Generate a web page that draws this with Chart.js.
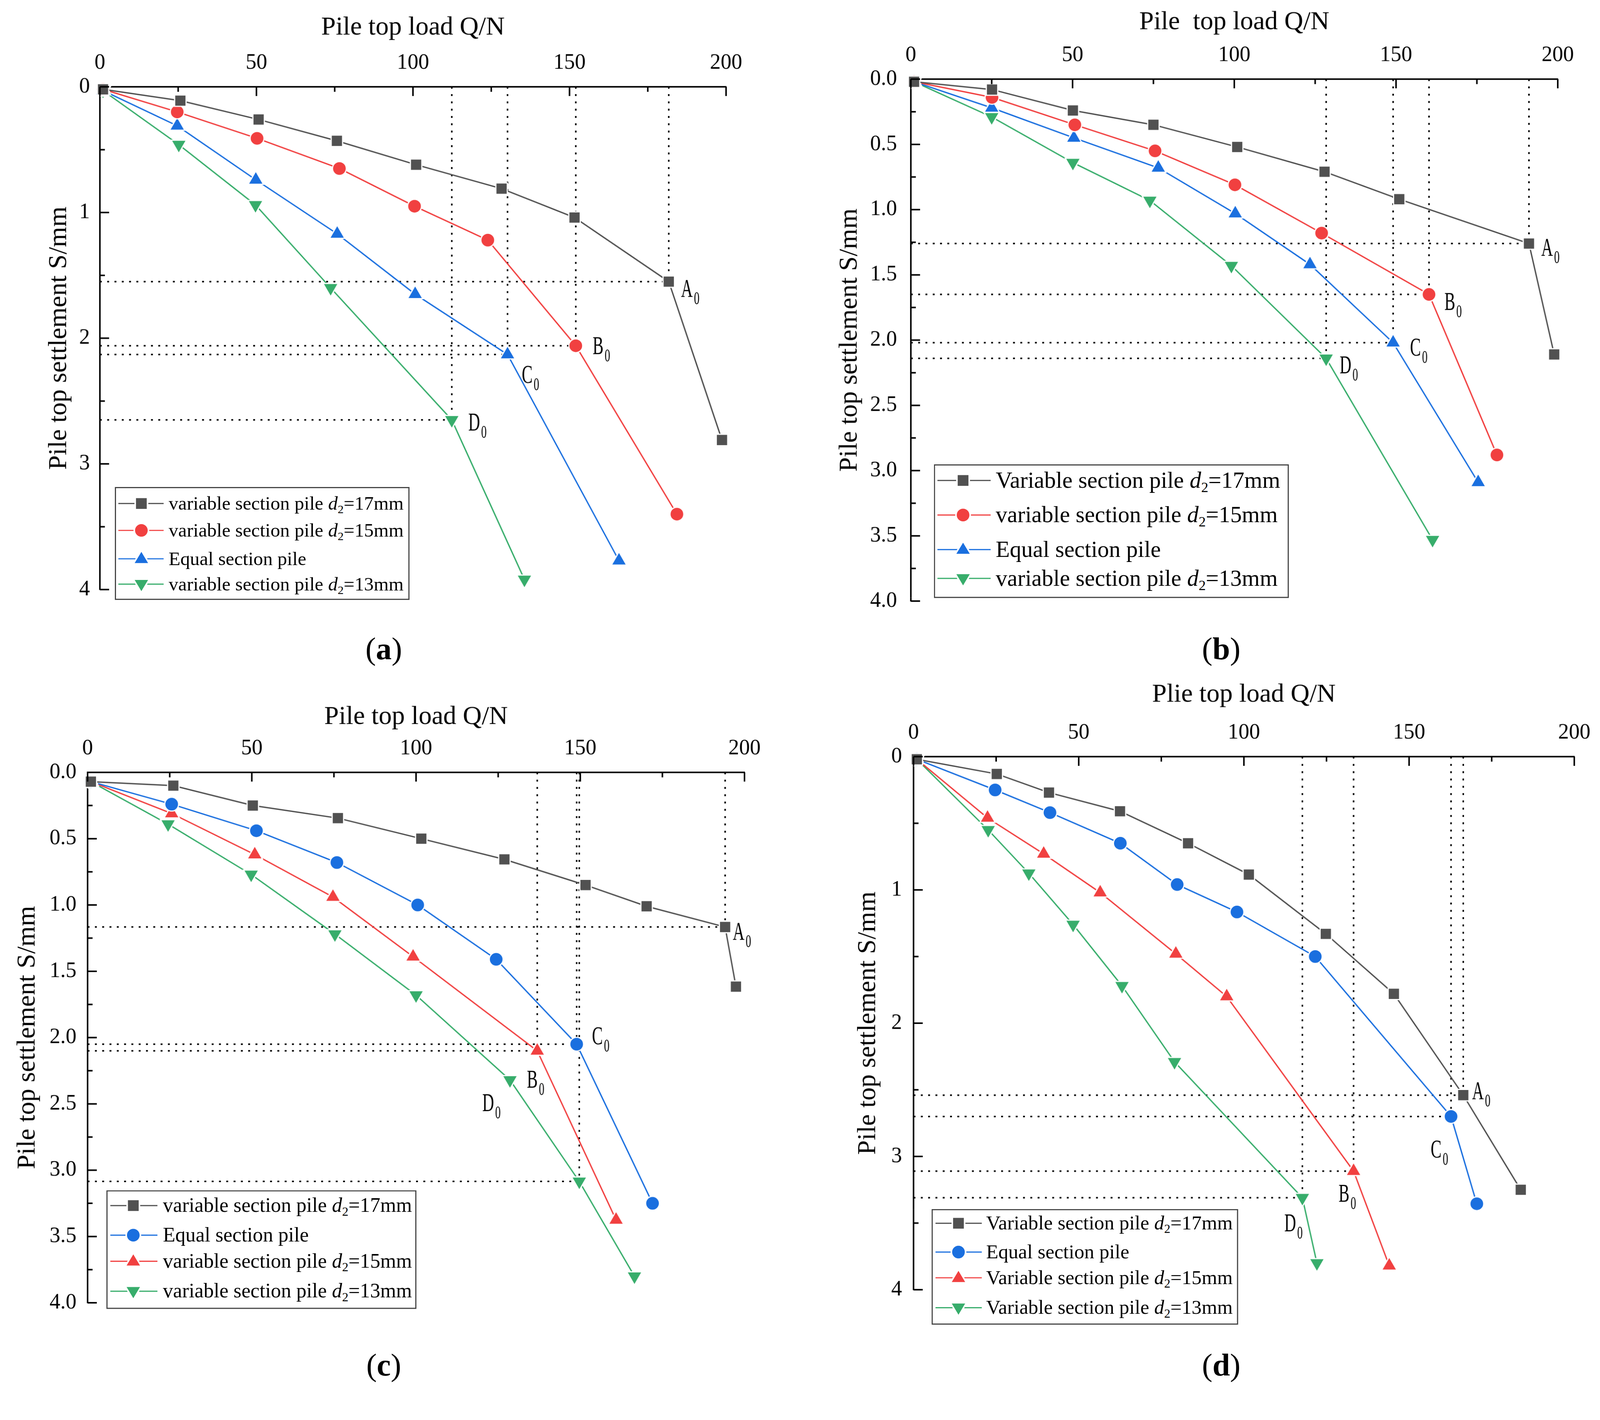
<!DOCTYPE html>
<html lang="en">
<head>
<meta charset="UTF-8">
<title>Pile top load - settlement curves</title>
<script src="https://cdn.jsdelivr.net/npm/chart.js"></script>
<style>
  html, body { margin:0; padding:0; background:#fff; overflow:hidden; }
  #page { position:absolute; left:0; top:0; width:4165px; height:3636px; transform-origin:0 0;
          font-family:"Liberation Serif","Times New Roman",serif; color:#000; }
  .legend { position:absolute; border:3px solid #444; background:#fff; box-sizing:border-box; }
  .legend .row { position:absolute; left:0; width:100%; height:0; }
  .legend .txt { position:absolute; top:0; transform:translateY(-52%); white-space:nowrap; line-height:1; }
  .legend sub { font-size:0.62em; vertical-align:-0.3em; line-height:0; }
  .tag { position:absolute; font-size:82px; transform:translate(-50%,-50%); white-space:nowrap; }
</style>
</head>
<body>
<div id="page"></div>
<script>
// ---- values ----
const xTickLabels = ['0', '50', '100', '150', '200'];
const yLabelsInt = ['0', '1', '2', '3', '4'];
const yLabelsDec = ['0.0', '0.5', '1.0', '1.5', '2.0', '2.5', '3.0', '3.5', '4.0'];

// (a)
const aLoad17 = [1, 25.7, 50.7, 75.7, 101, 128.3, 151.6, 181.7, 198.7];
const aSet17  = [0.02, 0.11, 0.26, 0.43, 0.62, 0.81, 1.04, 1.55, 2.81];
const aLoad15 = [1, 24.7, 50.2, 76.5, 100.5, 123.9, 152, 184.3];
const aSet15  = [0.02, 0.2, 0.41, 0.65, 0.95, 1.22, 2.06, 3.40];
const aLoadEq = [1, 24.7, 49.8, 75.8, 100.7, 130.2, 165.8];
const aSetEq  = [0.03, 0.31, 0.74, 1.17, 1.65, 2.13, 3.77];
const aLoad13 = [1, 25.2, 49.7, 73.7, 112.4, 135.6];
const aSet13  = [0.03, 0.46, 0.94, 1.60, 2.65, 3.92];

// (b)
const bLoad17 = [1, 25.1, 50.1, 75, 100.9, 127.9, 151, 191.1, 198.9];
const bSet17  = [0.02, 0.08, 0.24, 0.35, 0.52, 0.71, 0.92, 1.26, 2.11];
const bLoad15 = [1, 25.1, 50.7, 75.5, 100.2, 127, 160.2, 181.2];
const bSet15  = [0.02, 0.14, 0.35, 0.55, 0.81, 1.18, 1.65, 2.88];
const bLoadEq = [1, 25, 50.4, 76.5, 100.3, 123.4, 149.1, 175.4];
const bSetEq  = [0.02, 0.22, 0.45, 0.68, 1.03, 1.42, 2.02, 3.09];
const bLoad13 = [1, 25, 50.1, 73.9, 99.1, 128.4, 161.3];
const bSet13  = [0.02, 0.29, 0.64, 0.93, 1.43, 2.14, 3.53];

// (c)
const cLoad17 = [1, 26.1, 50.3, 76.2, 101.6, 126.9, 151.6, 170.2, 194.1, 197.4];
const cSet17  = [0.07, 0.1, 0.25, 0.345, 0.5, 0.656, 0.85, 1.01, 1.166, 1.616];
const cLoadEq = [1, 25.6, 51.4, 75.9, 100.5, 124.4, 148.9, 172];
const cSetEq  = [0.07, 0.24, 0.44, 0.68, 1.0, 1.41, 2.05, 3.25];
const cLoad15 = [1, 25.6, 50.9, 74.7, 99.1, 136.9, 160.9];
const cSet15  = [0.07, 0.31, 0.62, 0.94, 1.39, 2.1, 3.375];
const cLoad13 = [1, 24.5, 49.8, 75.3, 100, 128.6, 149.7, 166.5];
const cSet13  = [0.07, 0.39, 0.77, 1.22, 1.68, 2.32, 3.085, 3.80];

// (d)
const dLoad17 = [1, 25.2, 41, 62.5, 83.1, 101.5, 124.8, 145.4, 166.4, 183.8];
const dSet17  = [0.02, 0.13, 0.27, 0.41, 0.65, 0.885, 1.33, 1.78, 2.54, 3.25];
const dLoadEq = [1, 24.7, 41.3, 62.6, 79.8, 97.9, 121.6, 162.7, 170.5];
const dSetEq  = [0.02, 0.25, 0.42, 0.65, 0.96, 1.166, 1.50, 2.70, 3.355];
const dLoad15 = [1, 22.4, 39.4, 56.5, 79.4, 94.8, 133.2, 144];
const dSet15  = [0.02, 0.46, 0.73, 1.02, 1.48, 1.80, 3.11, 3.82];
const dLoad13 = [1, 22.6, 34.9, 48.3, 63.1, 79, 117.7, 122.1];
const dSet13  = [0.02, 0.55, 0.875, 1.26, 1.72, 2.29, 3.31, 3.80];

// ---- styles ----
const FONT = '"Liberation Serif", "Times New Roman", serif';
const GRAY = '#515151', RED = '#F14040', BLUE = '#1A6FDF', GREEN = '#37AD6B';
const SHAPES = {
  square: { style: 'rect', r: 21, rot: 0 },
  circle: { style: 'circle', r: 18, rot: 0 },
  up:     { style: 'triangle', r: 23, rot: 0 },
  down:   { style: 'triangle', r: 23, rot: 180 }
};

const panels = [
  {
    tag: 'a', tagPos: [999, 1689],
    xTitle: 'Pile top load Q/N', yTitle: 'Pile top settlement S/mm',
    yLabels: yLabelsInt, yStep: 0.5,
    canvas: { left: 0, top: 0, w: 2082, h: 1700 }, area: { l: 260, t: 226, r: 1890, b: 1535 },
    xTitlePad: 31, yTitlePad: 113, yTickPad: 26,
    legend: { l: 299, t: 1268, w: 767, h: 294, rows: [40, 110, 184, 250], lineStart: 6, lineEnd: 124, marker: 66, text: 137, size: 50 },
    series: [
      { name: 'variable section pile d2=17mm', load: aLoad17, set: aSet17, color: GRAY, shape: 'square', key: 7, mark: 'A', markAt: 7, off: [32, 40] },
      { name: 'variable section pile d2=15mm', load: aLoad15, set: aSet15, color: RED, shape: 'circle', key: 6, mark: 'B', markAt: 6, off: [44, 22] },
      { name: 'Equal section pile', load: aLoadEq, set: aSetEq, color: BLUE, shape: 'up', key: 5, mark: 'C', markAt: 5, off: [37, 74] },
      { name: 'variable section pile d2=13mm', load: aLoad13, set: aSet13, color: GREEN, shape: 'down', key: 4, mark: 'D', markAt: 4, off: [43, 28] }
    ]
  },
  {
    tag: 'b', tagPos: [3179, 1689],
    xTitle: 'Pile  top load Q/N', yTitle: 'Pile top settlement S/mm',
    yLabels: yLabelsDec, yStep: 0.25,
    canvas: { left: 2082, top: 0, w: 2083, h: 1700 }, area: { l: 2371, t: 206, r: 4055, b: 1565 },
    xTitlePad: 17, yTitlePad: 89, yTickPad: 36,
    legend: { l: 2431, t: 1209, w: 924, h: 348, rows: [39, 129, 219, 294], lineStart: 6, lineEnd: 145, marker: 73, text: 158, size: 60 },
    series: [
      { name: 'Variable section pile d2=17mm', load: bLoad17, set: bSet17, color: GRAY, shape: 'square', key: 7, mark: 'A', markAt: 7, off: [32, 32] },
      { name: 'variable section pile d2=15mm', load: bLoad15, set: bSet15, color: RED, shape: 'circle', key: 6, mark: 'B', markAt: 6, off: [40, 40] },
      { name: 'Equal section pile', load: bLoadEq, set: bSetEq, color: BLUE, shape: 'up', key: 6, mark: 'C', markAt: 6, off: [44, 34] },
      { name: 'variable section pile d2=13mm', load: bLoad13, set: bSet13, color: GREEN, shape: 'down', key: 5, mark: 'D', markAt: 5, off: [35, 39] }
    ]
  },
  {
    tag: 'c', tagPos: [999, 3554],
    xTitle: 'Pile top load Q/N', yTitle: 'Pile top settlement S/mm',
    yLabels: yLabelsDec, yStep: 0.25,
    canvas: { left: 0, top: 1700, w: 2082, h: 1936 }, area: { l: 228, t: 2011, r: 1938, b: 3392 },
    xTitlePad: 126, yTitlePad: 31, yTickPad: 29,
    legend: { l: 277, t: 3099, w: 807, h: 309, rows: [37, 114, 182, 260], lineStart: 7, lineEnd: 130, marker: 67, text: 144, size: 53 },
    series: [
      { name: 'variable section pile d2=17mm', load: cLoad17, set: cSet17, color: GRAY, shape: 'square', key: 8, mark: 'A', markAt: 8, off: [20, 33] },
      { name: 'Equal section pile', load: cLoadEq, set: cSetEq, color: BLUE, shape: 'circle', key: 6, mark: 'C', markAt: 6, off: [40, 0] },
      { name: 'variable section pile d2=15mm', load: cLoad15, set: cSet15, color: RED, shape: 'up', key: 5, mark: 'B', markAt: 5, off: [-27, 96] },
      { name: 'variable section pile d2=13mm', load: cLoad13, set: cSet13, color: GREEN, shape: 'down', key: 6, mark: 'D', markAt: 5, off: [-72, 81] }
    ]
  },
  {
    tag: 'd', tagPos: [3179, 3554],
    xTitle: 'Plie top load Q/N', yTitle: 'Pile top settlement S/mm',
    yLabels: yLabelsInt, yStep: 0.5,
    canvas: { left: 2082, top: 1700, w: 2083, h: 1936 }, area: { l: 2378, t: 1970, r: 4098, b: 3358 },
    xTitlePad: 68, yTitlePad: 137, yTickPad: 30,
    legend: { l: 2425, t: 3148, w: 798, h: 301, rows: [34, 109, 176, 254], lineStart: 7, lineEnd: 128, marker: 67, text: 139, size: 52 },
    series: [
      { name: 'Variable section pile d2=17mm', load: dLoad17, set: dSet17, color: GRAY, shape: 'square', key: 8, mark: 'A', markAt: 8, off: [23, 11] },
      { name: 'Equal section pile', load: dLoadEq, set: dSetEq, color: BLUE, shape: 'circle', key: 7, mark: 'C', markAt: 7, off: [-53, 107] },
      { name: 'Variable section pile d2=15mm', load: dLoad15, set: dSet15, color: RED, shape: 'up', key: 6, mark: 'B', markAt: 6, off: [-39, 80] },
      { name: 'Variable section pile d2=13mm', load: dLoad13, set: dSet13, color: GREEN, shape: 'down', key: 6, mark: 'D', markAt: 6, off: [-47, 87] }
    ]
  }
];

const page = document.getElementById('page');

function pickLabel(list, v) {
  const hit = list.find(l => Math.abs(parseFloat(l) - v) < 1e-6);
  return hit === undefined ? '' : hit;
}

// tick marks pointing into the plot, long where a label sits
const innerTicks = {
  id: 'innerTicks',
  afterDraw(chart) {
    const ctx = chart.ctx, xs = chart.scales.x, ys = chart.scales.y;
    ctx.save();
    ctx.strokeStyle = '#000';
    ctx.lineWidth = 4;
    ctx.beginPath();
    xs.ticks.forEach(t => {
      const px = xs.getPixelForValue(t.value);
      ctx.moveTo(px, xs.bottom);
      ctx.lineTo(px, xs.bottom + (t.label !== '' ? 24 : 13));
    });
    ys.ticks.forEach(t => {
      const py = ys.getPixelForValue(t.value);
      ctx.moveTo(ys.right, py);
      ctx.lineTo(ys.right + (t.label !== '' ? 24 : 13), py);
    });
    ctx.stroke();
    ctx.restore();
  }
};

// dotted guide lines to the marked points, and the A0..D0 labels
const keyPoints = {
  id: 'keyPoints',
  beforeDatasetsDraw(chart, args, opts) {
    const { ctx, chartArea } = chart, xs = chart.scales.x, ys = chart.scales.y;
    ctx.save();
    ctx.setLineDash([5, 14]);
    ctx.lineWidth = 4;
    ctx.strokeStyle = '#000';
    opts.series.forEach((s, i) => {
      const p = chart.data.datasets[i].data[s.key];
      const px = xs.getPixelForValue(p.x), py = ys.getPixelForValue(p.y);
      ctx.beginPath();
      ctx.moveTo(chartArea.left, py); ctx.lineTo(px, py);
      ctx.moveTo(px, chartArea.top); ctx.lineTo(px, py);
      ctx.stroke();
    });
    ctx.restore();
  },
  afterDatasetsDraw(chart, args, opts) {
    const ctx = chart.ctx, xs = chart.scales.x, ys = chart.scales.y;
    opts.series.forEach((s, i) => {
      const p = chart.data.datasets[i].data[s.markAt];
      const px = xs.getPixelForValue(p.x), py = ys.getPixelForValue(p.y);
      ctx.save();
      ctx.fillStyle = '#000';
      ctx.textBaseline = 'alphabetic';
      ctx.translate(px + s.off[0], py + s.off[1]);
      ctx.scale(0.62, 1);
      ctx.font = '68px ' + FONT;
      ctx.fillText(s.mark, 0, 0);
      const w = ctx.measureText(s.mark).width;
      ctx.font = '46px ' + FONT;
      ctx.fillText('0', w + 5, 19);
      ctx.restore();
    });
  }
};

function legendSymbol(shape, color, L) {
  const w = L.lineEnd - L.lineStart, h = 48, cx = L.marker - L.lineStart, cy = 24;
  let m;
  if (shape === 'square') m = `<rect x="${cx - 16}" y="${cy - 16}" width="32" height="32"`;
  else if (shape === 'circle') m = `<circle cx="${cx}" cy="${cy}" r="18.5"`;
  else if (shape === 'up') m = `<polygon points="${cx},${cy - 22} ${cx + 21},${cy + 13} ${cx - 21},${cy + 13}"`;
  else m = `<polygon points="${cx},${cy + 22} ${cx + 21},${cy - 13} ${cx - 21},${cy - 13}"`;
  return `<svg width="${w}" height="${h}" style="position:absolute;left:${L.lineStart}px;top:${-h / 2}px">` +
    `<line x1="0" y1="${cy}" x2="${w}" y2="${cy}" stroke="${color}" stroke-width="3"/>` +
    `${m} fill="${color}" stroke="#fff" stroke-width="4"/></svg>`;
}

function formatName(name) {
  return name.replace('d2', '<i>d</i><sub>2</sub>');
}

function buildLegend(p) {
  const L = p.legend;
  const box = document.createElement('div');
  box.className = 'legend';
  box.style.cssText = `left:${L.l}px;top:${L.t}px;width:${L.w}px;height:${L.h}px;font-size:${L.size}px`;
  box.innerHTML = p.series.map((s, i) =>
    `<div class="row" style="top:${L.rows[i]}px">${legendSymbol(s.shape, s.color, L)}` +
    `<span class="txt" style="left:${L.text}px">${formatName(s.name)}</span></div>`).join('');
  page.appendChild(box);
}

function buildTag(p) {
  const t = document.createElement('div');
  t.className = 'tag';
  t.style.left = p.tagPos[0] + 'px';
  t.style.top = p.tagPos[1] + 'px';
  t.innerHTML = `(<b>${p.tag}</b>)`;
  page.appendChild(t);
}

function makeChart(p) {
  const cv = document.createElement('canvas');
  cv.width = p.canvas.w;
  cv.height = p.canvas.h;
  cv.style.cssText = `position:absolute;left:${p.canvas.left}px;top:${p.canvas.top}px;width:${p.canvas.w}px;height:${p.canvas.h}px`;
  page.appendChild(cv);

  const xH = p.area.t - p.canvas.top;
  const yW = p.area.l - p.canvas.left;
  const padRight = p.canvas.left + p.canvas.w - p.area.r;
  const padBottom = p.canvas.top + p.canvas.h - p.area.b;

  new Chart(cv, {
    type: 'line',
    data: {
      datasets: p.series.map(s => ({
        label: s.name,
        data: s.load.map((q, i) => ({ x: q, y: s.set[i] })),
        borderColor: s.color,
        backgroundColor: s.color,
        borderWidth: 3.5,
        tension: 0,
        clip: false,
        pointStyle: SHAPES[s.shape].style,
        pointRadius: SHAPES[s.shape].r,
        pointRotation: SHAPES[s.shape].rot,
        pointBackgroundColor: s.color,
        pointBorderColor: '#fff',
        pointBorderWidth: 3
      }))
    },
    options: {
      responsive: false,
      animation: false,
      devicePixelRatio: 1,
      layout: { padding: { left: 0, top: 0, right: padRight, bottom: padBottom } },
      plugins: {
        legend: { display: false },
        tooltip: { enabled: false },
        keyPoints: { series: p.series }
      },
      scales: {
        x: {
          type: 'linear', position: 'top', min: 0, max: 200,
          afterFit: s => { s.height = xH; s.paddingLeft = 0; s.paddingRight = 0; },
          grid: { display: false, drawTicks: false },
          border: { display: true, color: '#000', width: 4 },
          ticks: {
            stepSize: 25, autoSkip: false, maxRotation: 0, padding: 28, color: '#000',
            font: { family: FONT, size: 56 },
            callback: v => pickLabel(xTickLabels, v)
          },
          title: {
            display: true, text: p.xTitle, color: '#000',
            font: { family: FONT, size: 68 }, padding: { top: p.xTitlePad, bottom: 0 }
          }
        },
        y: {
          type: 'linear', position: 'left', reverse: true, min: 0, max: 4,
          afterFit: s => { s.width = yW; s.paddingTop = 0; s.paddingBottom = 0; },
          grid: { display: false, drawTicks: false },
          border: { display: true, color: '#000', width: 4 },
          ticks: {
            stepSize: p.yStep, autoSkip: false, padding: p.yTickPad, color: '#000',
            font: { family: FONT, size: 56 },
            callback: v => pickLabel(p.yLabels, v)
          },
          title: {
            display: true, text: p.yTitle, color: '#000',
            font: { family: FONT, size: 68 }, padding: { top: p.yTitlePad, bottom: 0 }
          }
        }
      }
    },
    plugins: [innerTicks, keyPoints]
  });
}

panels.forEach(p => {
  makeChart(p);
  buildLegend(p);
  buildTag(p);
});

// the browser caps the viewport width, so shrink the 4165x3636 figure to fit it
const fit = Math.min(window.innerWidth / 4165, window.innerHeight / 3636);
page.style.transform = `scale(${fit})`;
</script>
</body>
</html>
